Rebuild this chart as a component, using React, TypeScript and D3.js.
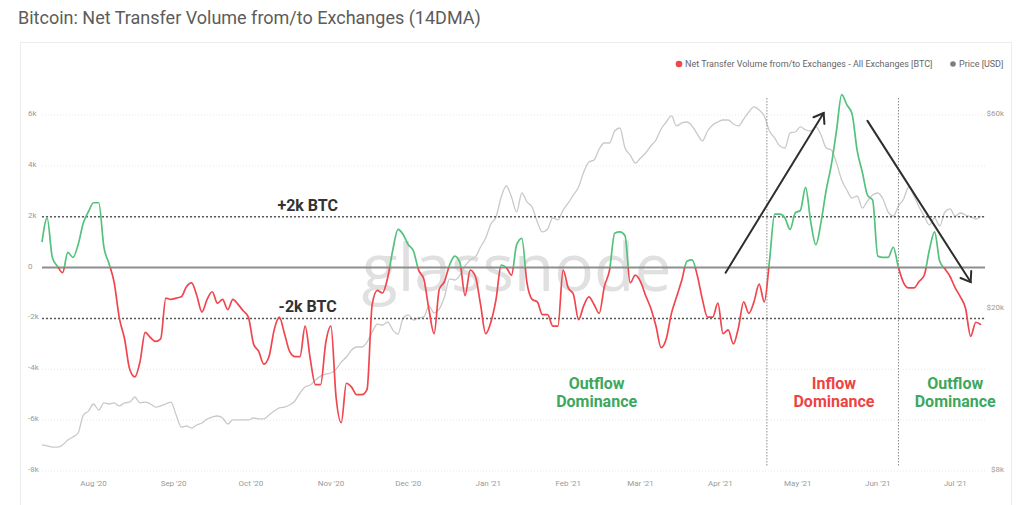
import * as d3 from "d3";

// 14DMA net transfer volume (BTC), one value every 2 days starting 2020-07-12
const startDate = new Date(2020, 6, 12);
const stepDays = 2;

const netFlow = [
  1000, 1950, 400, 50, -200, 600, 400, 900, 1750, 2200,
  2550, 2550, 800, 150, -600, -2000, -2800, -4000, -4300, -3700,
  -2550, -2750, -2900, -2800, -1200, -1250, -1200, -1150, -750, -600,
  -1100, -1750, -1250, -950, -1400, -1250, -1650, -1250, -1450, -1700,
  -1950, -3000, -3300, -3800, -3500, -2450, -1950, -2600, -3300, -3500,
  -3500, -2300, -3600, -4600, -4600, -2950, -2300, -5100, -6100, -4550,
  -4700, -5000, -5000, -4800, -1450, -900, -1000, -400, 700, 1500,
  1300, 900, 650, -100, -450, -1650, -2600, -850, -550, 100,
  450, 200, -1100, -100, -350, -1450, -2600, -2150, -1250, 100,
  0, -300, 900, 1150, -600, -1250, -1350, -1850, -1850, -2300,
  -2300, -100, -800, -1050, -2050, -1500, -1150, -1450, -1800, -750,
  -100, 1350, 1400, 1250, -600, -300, -550, -1100, -1600, -2300,
  -3150, -2800, -1800, -1150, -500, 250, 300, -300, -1250, -1950,
  -1950, -1400, -2600, -2450, -3000, -2350, -1350, -1800, -1350, -650,
  -1350, 250, 2100, 2100, 1950, 1500, 2150, 2250, 3150, 1800,
  900, 1800, 3050, 4050, 5400, 6800, 6400, 6050, 4600, 3750,
  2850, 2650, 450, 400, 400, 800, 0, -600, -800, -800,
  -550, -300, 700, 1400, 250, -50, -350, -800, -1150, -1600,
  -2700, -2150, -2250,
];

// BTC price (USD), same dates
const price = [
  9270, 9220, 9160, 9160, 9270, 9530, 9700, 9920, 10980, 11230,
  11690, 11300, 11760, 11690, 11760, 11560, 11760, 11820, 12160, 11760,
  11820, 11690, 11490, 11560, 11690, 11820, 10980, 10260, 10320, 10200,
  10380, 10500, 10740, 10860, 10920, 10800, 10440, 10680, 10680, 10680,
  10680, 10800, 10740, 10740, 10980, 11230, 11430, 11490, 11620, 11890,
  12440, 12870, 13010, 13390, 13690, 13850, 13930, 14240, 14820, 15250,
  15860, 16140, 16140, 16600, 17570, 18380, 18280, 18590, 17770, 17370,
  19020, 19350, 18800, 19020, 19130, 20360, 19570, 20010, 21420, 23720,
  23580, 24260, 25530, 26420, 26870, 28420, 29910, 32390, 33700, 37720,
  40150, 37720, 34660, 38590, 36680, 35650, 32760, 30950, 31480, 33500,
  33130, 35050, 36470, 38160, 39920, 43460, 45990, 46510, 49490, 51210,
  51210, 54810, 55750, 49780, 47850, 45730, 47040, 48390, 50350, 52090,
  55430, 57670, 59670, 56390, 57360, 57670, 56390, 53890, 51800, 54810,
  56710, 57670, 58330, 58330, 57030, 56390, 58660, 61040, 62790, 61740,
  59670, 54810, 52680, 50350, 49780, 54210, 54500, 56070, 55120, 54810,
  56070, 53590, 49780, 49220, 45730, 41540, 39250, 37510, 37940, 35450,
  36880, 38160, 38590, 37300, 34660, 33880, 35850, 37300, 39920, 37940,
  35650, 33880, 32200, 33500, 32020, 34660, 35250, 33880, 34460, 34070,
  33700, 33310, 33880,
];

const leftTicks = [-8000, -6000, -4000, -2000, 0, 2000, 4000, 6000];
const rightTicks = [8000, 20000, 60000];
const regimeLines = [new Date(2021, 3, 19), new Date(2021, 5, 9)];

const arrows = [
  { from: [new Date(2021, 3, 3), -200], to: [new Date(2021, 4, 11), 6080] },
  { from: [new Date(2021, 4, 28), 5770], to: [new Date(2021, 6, 7), -570] },
];

const zones = [
  { date: new Date(2021, 1, 12), label: ["Outflow", "Dominance"], color: "#3ea75e" },
  { date: new Date(2021, 4, 15), label: ["Inflow", "Dominance"], color: "#ee4343" },
  { date: new Date(2021, 6, 1), label: ["Outflow", "Dominance"], color: "#3ea75e" },
];

const W = 1024;
const H = 505;
const GREEN = "#52c27c";
const RED = "#f0464e";
const FONT = "Roboto, 'Noto Sans', sans-serif";

export default function App() {
  const dates = netFlow.map((_, i) => d3.timeDay.offset(startDate, i * stepDays));
  const x = d3
    .scaleTime()
    .domain([startDate, dates[dates.length - 1]])
    .range([42, 981]);
  const y = d3.scaleLinear().domain([-8000, 6000]).range([471, 115]);
  const yPrice = d3.scaleLog().domain([8000, 60000]).range([471, 115]);

  const flowLine = d3
    .line<number>()
    .x((_, i) => x(dates[i]))
    .y((d) => y(d))
    .curve(d3.curveMonotoneX);
  const priceLine = d3
    .line<number>()
    .x((_, i) => x(dates[i]))
    .y((d) => yPrice(d))
    .curve(d3.curveMonotoneX);

  const months = x.ticks(d3.timeMonth.every(1)!);
  const fmtMonth = d3.timeFormat("%b '%y");
  const fmtK = (v: number) => (v === 0 ? "0" : `${v / 1000}k`);
  const y0 = y(0);
  const gridX0 = 42;
  const gridX1 = 985;

  const arrowHead = (a: { from: any[]; to: any[] }) => {
    const x1 = x(a.from[0]), y1 = y(a.from[1]);
    const x2 = x(a.to[0]), y2 = y(a.to[1]);
    const ang = Math.atan2(y1 - y2, x1 - x2);
    const len = 11;
    const spread = 0.62;
    const p1 = [x2 + len * Math.cos(ang + spread), y2 + len * Math.sin(ang + spread)];
    const p2 = [x2 + len * Math.cos(ang - spread), y2 + len * Math.sin(ang - spread)];
    return { x1, y1, x2, y2, head: `M${p1[0]},${p1[1]}L${x2},${y2}L${p2[0]},${p2[1]}` };
  };

  return (
    <svg
      width={W}
      height={H}
      style={{ position: "absolute", left: 0, top: 0, background: "#fff" }}
      fontFamily={FONT}
    >
      <defs>
        <clipPath id="above">
          <rect x={0} y={0} width={W} height={y0} />
        </clipPath>
        <clipPath id="below">
          <rect x={0} y={y0} width={W} height={H - y0} />
        </clipPath>
      </defs>

      <text x={18} y={24} fontSize={18} fill="#5c5c5c">
        Bitcoin: Net Transfer Volume from/to Exchanges (14DMA)
      </text>

      <rect x={20.5} y={42.5} width={991} height={470} fill="none" stroke="#ececec" />

      {/* legend */}
      <circle cx={679} cy={64} r={3.3} fill={RED} />
      <text x={685} y={67} fontSize={9} fill="#666">
        Net Transfer Volume from/to Exchanges - All Exchanges [BTC]
      </text>
      <circle cx={953} cy={64} r={2.8} fill="#7e7e7e" />
      <text x={959} y={67} fontSize={9} fill="#666">
        Price [USD]
      </text>

      {/* watermark */}
      <text
        x={x(new Date(2021, 0, 12))}
        y={291}
        fontSize={66}
        fill="#e0e0e0"
        textAnchor="middle"
        fontFamily="'Open Sans', sans-serif"
      >
        glassnode
      </text>

      {/* gridlines */}
      {leftTicks.map((t) => (
        <line
          key={t}
          x1={gridX0}
          x2={gridX1}
          y1={y(t)}
          y2={y(t)}
          stroke="#e8e8e8"
          strokeDasharray="1,2"
        />
      ))}
      {leftTicks.map((t) => (
        <text key={"l" + t} x={28} y={y(t) + 1} fontSize={8} fill="#9a9a9a">
          {fmtK(t)}
        </text>
      ))}
      {rightTicks.map((t) => (
        <text key={"r" + t} x={1004} y={yPrice(t) + 1} fontSize={8} fill="#9a9a9a" textAnchor="end">
          {`$${t / 1000}k`}
        </text>
      ))}
      {months.map((m) => (
        <text key={+m} x={x(m)} y={486} fontSize={8} fill="#9a9a9a" textAnchor="middle">
          {fmtMonth(m)}
        </text>
      ))}

      {/* price */}
      <path d={priceLine(price) || ""} fill="none" stroke="#c9c9c9" strokeWidth={1.3} />

      {/* regime separators */}
      {regimeLines.map((d) => (
        <line
          key={+d}
          x1={x(d)}
          x2={x(d)}
          y1={98}
          y2={466}
          stroke="#8a8a8a"
          strokeWidth={1}
          strokeDasharray="1.5,1.5"
        />
      ))}

      {/* reference lines */}
      <line x1={gridX0} x2={gridX1} y1={y0} y2={y0} stroke="#8e8e8e" strokeWidth={2} />
      {[2000, -2000].map((v) => (
        <line
          key={v}
          x1={gridX0}
          x2={gridX1}
          y1={y(v)}
          y2={y(v)}
          stroke="#5a5a5a"
          strokeWidth={1.4}
          strokeDasharray="2,2"
        />
      ))}

      {/* net flow line */}
      <path d={flowLine(netFlow) || ""} fill="none" stroke={GREEN} strokeWidth={1.7} clipPath="url(#above)" />
      <path d={flowLine(netFlow) || ""} fill="none" stroke={RED} strokeWidth={1.7} clipPath="url(#below)" />

      {/* annotations */}
      <text x={x(new Date(2020, 9, 23))} y={y(2000) - 6} fontSize={16} fontWeight="bold" fill="#333" textAnchor="middle">
        +2k BTC
      </text>
      <text x={x(new Date(2020, 9, 23))} y={y(-2000) - 6} fontSize={16} fontWeight="bold" fill="#333" textAnchor="middle">
        -2k BTC
      </text>

      {arrows.map((a, i) => {
        const h = arrowHead(a);
        return (
          <g key={i} stroke="#2e2e2e" strokeWidth={2} fill="none" strokeLinecap="round">
            <line x1={h.x1} y1={h.y1} x2={h.x2} y2={h.y2} />
            <path d={h.head} />
          </g>
        );
      })}

      {zones.map((z, i) => (
        <g key={i} fontSize={16} fontWeight="bold" fill={z.color} textAnchor="middle">
          <text x={x(z.date)} y={389}>
            {z.label[0]}
          </text>
          <text x={x(z.date)} y={407}>
            {z.label[1]}
          </text>
        </g>
      ))}
    </svg>
  );
}
